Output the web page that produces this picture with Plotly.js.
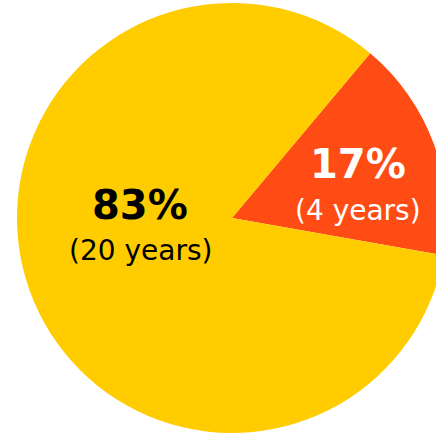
<!DOCTYPE html>
<html>
<head>
<meta charset="utf-8">
<script src="https://cdn.plot.ly/plotly-3.0.1.min.js"></script>
<style>
html,body{margin:0;padding:0;overflow:hidden;background:#fff;}
#chart{width:464px;height:440px;}
</style>
</head>
<body>
<div id="chart"></div>
<script>
const labels = ["4 years", "20 years"];
const years = [4, 20];
const percents = ["17%", "83%"];
const colors = ["#FF4B14", "#FFCC00"];
const textColors = ["#FFFFFF", "#000000"];

const W = 464, H = 440;
const cx = 232, cy = 218, r = 215;

// label anchor points (pixels from top-left) for each slice: [x, yPercent, ySub]
const labelPos = [[358, 164, 210], [140, 205, 250]];

const trace = {
  type: "pie",
  values: years,
  labels: labels,
  textinfo: "none",
  sort: false,
  direction: "clockwise",
  rotation: 40,
  marker: {colors: colors, line: {width: 0}},
  hoverinfo: "none",
  domain: {
    x: [(cx - r) / W, (cx + r) / W],
    y: [(H - (cy + r)) / H, (H - (cy - r)) / H]
  }
};

const font = "'DejaVu Sans', sans-serif";
const annotations = [];
labels.forEach((l, i) => {
  const p = labelPos[i];
  annotations.push({
    xref: "paper", yref: "paper",
    x: p[0] / W, y: 1 - p[1] / H,
    xanchor: "center", yanchor: "middle",
    showarrow: false,
    text: "<b>" + percents[i] + "</b>",
    font: {family: font, size: 40, color: textColors[i]}
  });
  annotations.push({
    xref: "paper", yref: "paper",
    x: p[0] / W, y: 1 - p[2] / H,
    xanchor: "center", yanchor: "middle",
    showarrow: false,
    text: "(" + l + ")",
    font: {family: font, size: 28, color: textColors[i]}
  });
});

const layout = {
  width: W, height: H,
  margin: {l: 0, r: 0, t: 0, b: 0},
  showlegend: false,
  paper_bgcolor: "#ffffff",
  annotations: annotations
};

Plotly.newPlot("chart", [trace], layout, {displayModeBar: false, staticPlot: true});
</script>
</body>
</html>
